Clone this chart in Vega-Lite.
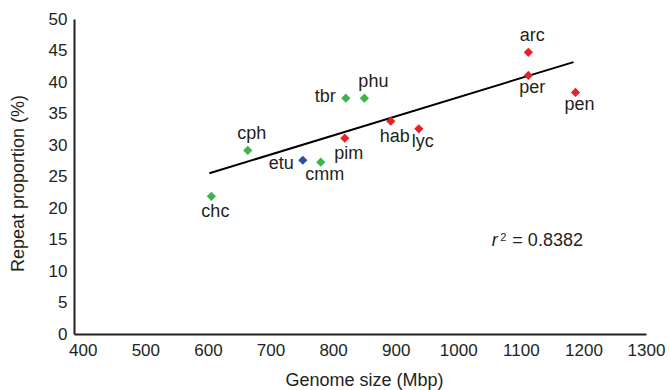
{
  "$schema": "https://vega.github.io/schema/vega-lite/v6.json",
  "width": 572,
  "height": 315,
  "autosize": {"type": "none"},
  "padding": {"left": 74, "top": 19, "right": 23, "bottom": 56},
  "background": "white",
  "config": {
    "view": {"stroke": null},
    "font": "Liberation Sans",
    "axis": {"grid": false, "ticks": false, "domainColor": "#231f20", "domainWidth": 2, "labelColor": "#231f20", "titleColor": "#231f20", "labelFont": "Liberation Sans", "titleFont": "Liberation Sans", "labelFontSize": 17, "titleFontSize": 18, "titleFontWeight": "normal", "labelOverlap": false, "labelFlush": false, "labelBound": false, "format": "d"}
  },
  "datasets": {
    "pts": [
      {"name": "chc", "size": 605.5, "repeat": 21.86, "group": "green"},
      {"name": "cph", "size": 663.7, "repeat": 29.13, "group": "green"},
      {"name": "etu", "size": 751.6, "repeat": 27.58, "group": "blue"},
      {"name": "cmm", "size": 780.3, "repeat": 27.27, "group": "green"},
      {"name": "tbr", "size": 820.3, "repeat": 37.44, "group": "green"},
      {"name": "phu", "size": 850.0, "repeat": 37.44, "group": "green"},
      {"name": "pim", "size": 818.7, "repeat": 31.08, "group": "red"},
      {"name": "hab", "size": 892.2, "repeat": 33.78, "group": "red"},
      {"name": "lyc", "size": 937.0, "repeat": 32.56, "group": "red"},
      {"name": "arc", "size": 1112.0, "repeat": 44.71, "group": "red"},
      {"name": "per", "size": 1112.0, "repeat": 41.05, "group": "red"},
      {"name": "pen", "size": 1187.3, "repeat": 38.35, "group": "red"}
    ],
    "fit": [
      {"size": 602.3, "repeat": 25.52},
      {"size": 1184.1, "repeat": 43.16}
    ],
    "note": [{"label": "r2"}]
  },
  "layer": [
    {
      "data": {"name": "fit"},
      "mark": {"type": "line", "color": "#000000", "strokeWidth": 2},
      "encoding": {
        "x": {"field": "size", "type": "quantitative", "scale": {"domain": [386, 1300], "nice": false, "zero": false},
              "axis": {"values": [400, 500, 600, 700, 800, 900, 1000, 1100, 1200, 1300], "labelPadding": 8, "title": "Genome size (Mbp)", "titleX": 290, "titleY": 46, "titleBaseline": "middle"}},
        "y": {"field": "repeat", "type": "quantitative", "scale": {"domain": [0, 50], "nice": false},
              "axis": {"values": [0, 5, 10, 15, 20, 25, 30, 35, 40, 45, 50], "labelPadding": 7, "title": "Repeat proportion (%)", "titleX": -56, "titleY": 164, "titleBaseline": "middle"}}
      }
    },
    {
      "data": {"name": "pts"},
      "encoding": {
        "x": {"field": "size", "type": "quantitative",
              "axis": {"values": [400, 500, 600, 700, 800, 900, 1000, 1100, 1200, 1300], "labelPadding": 8, "title": "Genome size (Mbp)", "titleX": 290, "titleY": 46, "titleBaseline": "middle"}},
        "y": {"field": "repeat", "type": "quantitative",
              "axis": {"values": [0, 5, 10, 15, 20, 25, 30, 35, 40, 45, 50], "labelPadding": 7, "title": "Repeat proportion (%)", "titleX": -56, "titleY": 164, "titleBaseline": "middle"}}
      },
      "layer": [
        {
          "mark": {"type": "point", "shape": "diamond", "filled": true, "size": 85, "opacity": 1},
          "encoding": {
            "color": {"field": "group", "type": "nominal", "legend": null,
                      "scale": {"domain": ["green", "red", "blue"], "range": ["#3db54a", "#e8202a", "#2d4e9e"]}}
          }
        },
        {
          "transform": [{"filter": {"field": "name", "oneOf": ["chc", "pim", "hab"]}}],
          "mark": {"type": "text", "fontSize": 18, "color": "#231f20", "baseline": "alphabetic", "align": "center", "dx": 4, "dy": 21},
          "encoding": {"text": {"field": "name"}}
        },
        {
          "transform": [{"filter": {"field": "name", "oneOf": ["cmm", "lyc", "per", "pen"]}}],
          "mark": {"type": "text", "fontSize": 18, "color": "#231f20", "baseline": "alphabetic", "align": "center", "dx": 4, "dy": 18},
          "encoding": {"text": {"field": "name"}}
        },
        {
          "transform": [{"filter": {"field": "name", "oneOf": ["cph", "arc"]}}],
          "mark": {"type": "text", "fontSize": 18, "color": "#231f20", "baseline": "alphabetic", "align": "center", "dx": 4, "dy": -11.5},
          "encoding": {"text": {"field": "name"}}
        },
        {
          "transform": [{"filter": {"field": "name", "equal": "phu"}}],
          "mark": {"type": "text", "fontSize": 18, "color": "#231f20", "baseline": "alphabetic", "align": "center", "dx": 9, "dy": -11.5},
          "encoding": {"text": {"field": "name"}}
        },
        {
          "transform": [{"filter": {"field": "name", "equal": "etu"}}],
          "mark": {"type": "text", "fontSize": 18, "color": "#231f20", "baseline": "alphabetic", "align": "right", "dx": -9, "dy": 9},
          "encoding": {"text": {"field": "name"}}
        },
        {
          "transform": [{"filter": {"field": "name", "equal": "tbr"}}],
          "mark": {"type": "text", "fontSize": 18, "color": "#231f20", "baseline": "alphabetic", "align": "right", "dx": -10, "dy": 4},
          "encoding": {"text": {"field": "name"}}
        }
      ]
    },
    {
      "data": {"name": "note"},
      "encoding": {
        "x": {"datum": 1053.7, "type": "quantitative", "axis": {"values": [400, 500, 600, 700, 800, 900, 1000, 1100, 1200, 1300], "labelPadding": 8, "title": "Genome size (Mbp)", "titleX": 290, "titleY": 46, "titleBaseline": "middle"}},
        "y": {"datum": 13.9, "type": "quantitative", "axis": {"values": [0, 5, 10, 15, 20, 25, 30, 35, 40, 45, 50], "labelPadding": 7, "title": "Repeat proportion (%)", "titleX": -56, "titleY": 164, "titleBaseline": "middle"}}
      },
      "layer": [
        {
          "mark": {"type": "text", "fontSize": 18, "fontStyle": "italic", "color": "#231f20", "baseline": "alphabetic", "align": "left"},
          "encoding": {"text": {"value": "r"}}
        },
        {
          "mark": {"type": "text", "fontSize": 11, "color": "#231f20", "baseline": "alphabetic", "align": "left", "dx": 8.3, "dy": -5.5},
          "encoding": {"text": {"value": "2"}}
        },
        {
          "mark": {"type": "text", "fontSize": 18, "color": "#231f20", "baseline": "alphabetic", "align": "left", "dx": 20.5},
          "encoding": {"text": {"value": "= 0.8382"}}
        }
      ]
    }
  ]
}
